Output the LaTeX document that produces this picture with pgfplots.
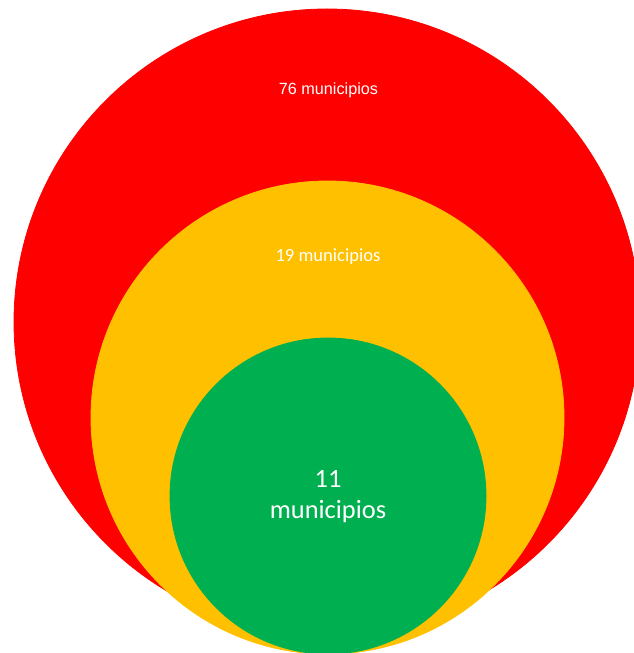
\documentclass[border=0pt]{standalone}
\usepackage{pgfplots}
\pgfplotsset{compat=1.18}
\usepackage{fontspec}
\setmainfont{Carlito}
\newfontfamily\arialfont{Liberation Sans}
\definecolor{cred}{HTML}{FF0000}
\definecolor{cyellow}{HTML}{FFC000}
\definecolor{cgreen}{HTML}{00B050}

% circle centres and radii in pixel units of the 633x653 picture (y upwards)
\pgfplotstableread{
x y r
327 331 313
}\redcircle
\pgfplotstableread{
x y r
327.5 235.5 236.5
}\yellowcircle
\pgfplotstableread{
x y r
328 157 158
}\greencircle

\begin{document}
\begin{tikzpicture}
\useasboundingbox (0,0) rectangle (316.5pt,326.5pt);
\begin{axis}[
    at={(0,0)}, anchor=south west,
    scale only axis,
    width=316.5pt, height=326.5pt,
    xmin=0, xmax=633, ymin=0, ymax=653,
    hide axis,
    clip=true,
    bubble/.style={
        only marks, mark=*, scatter,
        scatter/use mapped color={draw=#1, fill=#1},
        visualization depends on={0.5*\thisrow{r} \as \rad},
        scatter/@pre marker code/.append style={/tikz/mark size=\rad},
    },
]
\addplot[bubble=cred] table[x=x, y=y] {\redcircle};
\addplot[bubble=cyellow] table[x=x, y=y] {\yellowcircle};
\addplot[bubble=cgreen] table[x=x, y=y] {\greencircle};

\coordinate (l76) at (axis cs:328.5,563);
\coordinate (l19) at (axis cs:328,396);
\coordinate (l11) at (axis cs:328,156);
\end{axis}
% labels on top of the circles
\node[white, font=\arialfont\fontsize{8.1}{9.5}\selectfont] at (l76) {76 municipios};
\node[white, font=\fontsize{9.3}{11}\selectfont] at (l19) {19 municipios};
\node[white, align=center, font=\fontsize{13.2}{15.5}\selectfont] at (l11) {11\\municipios};
\end{tikzpicture}
\end{document}
